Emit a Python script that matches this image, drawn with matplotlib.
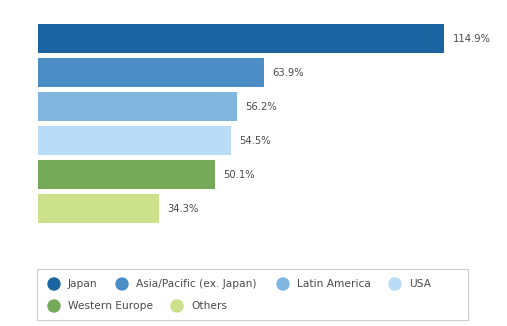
import matplotlib.pyplot as plt
from matplotlib.patches import Rectangle, Ellipse

# regional growth figures
regions = ["Japan", "Asia/Pacific (ex. Japan)", "Latin America", "USA",
           "Western Europe", "Others"]
growth = [114.9, 63.9, 56.2, 54.5, 50.1, 34.3]
colors = ["#1b64a2", "#4a8ec5", "#80b6df", "#b9ddf9", "#75aa58", "#cde08b"]

W, H = 507, 326
fig = plt.figure(figsize=(W / 100, H / 100), dpi=100)
fig.patch.set_facecolor("white")

# bar area (pixel coords converted to figure fractions)
ax = fig.add_axes([38 / W, (H - 225.5) / H, 469 / W, 204 / H])
ypos = list(range(len(regions)))
ax.barh(ypos, growth, height=0.85, color=colors)
ax.set_ylim(len(regions) - 0.5, -0.5)
ax.set_xlim(0, 469 / 3.534)
for y, v in zip(ypos, growth):
    ax.annotate(f"{v}%", (v, y), xytext=(6, 0), textcoords="offset points",
                va="center", ha="left", fontsize=7.2, color="#4a4a4a")
ax.axis("off")

# legend box
fig.add_artist(Rectangle((37 / W, (H - 320) / H), 431 / W, 51 / H,
                         transform=fig.transFigure, fill=False,
                         edgecolor="#cccccc", linewidth=0.8))
slots = [(54, 284), (122, 284), (283, 284), (395, 284), (54, 306), (177, 306)]
for (px, py), name, c in zip(slots, regions, colors):
    fig.add_artist(Ellipse((px / W, (H - py) / H), 12 / W, 12 / H,
                           transform=fig.transFigure, color=c))
    fig.text((px + 14) / W, (H - py) / H, name, fontsize=7.7,
             color="#4a4a4a", va="center", ha="left")

fig.savefig("out.png", dpi=100)
